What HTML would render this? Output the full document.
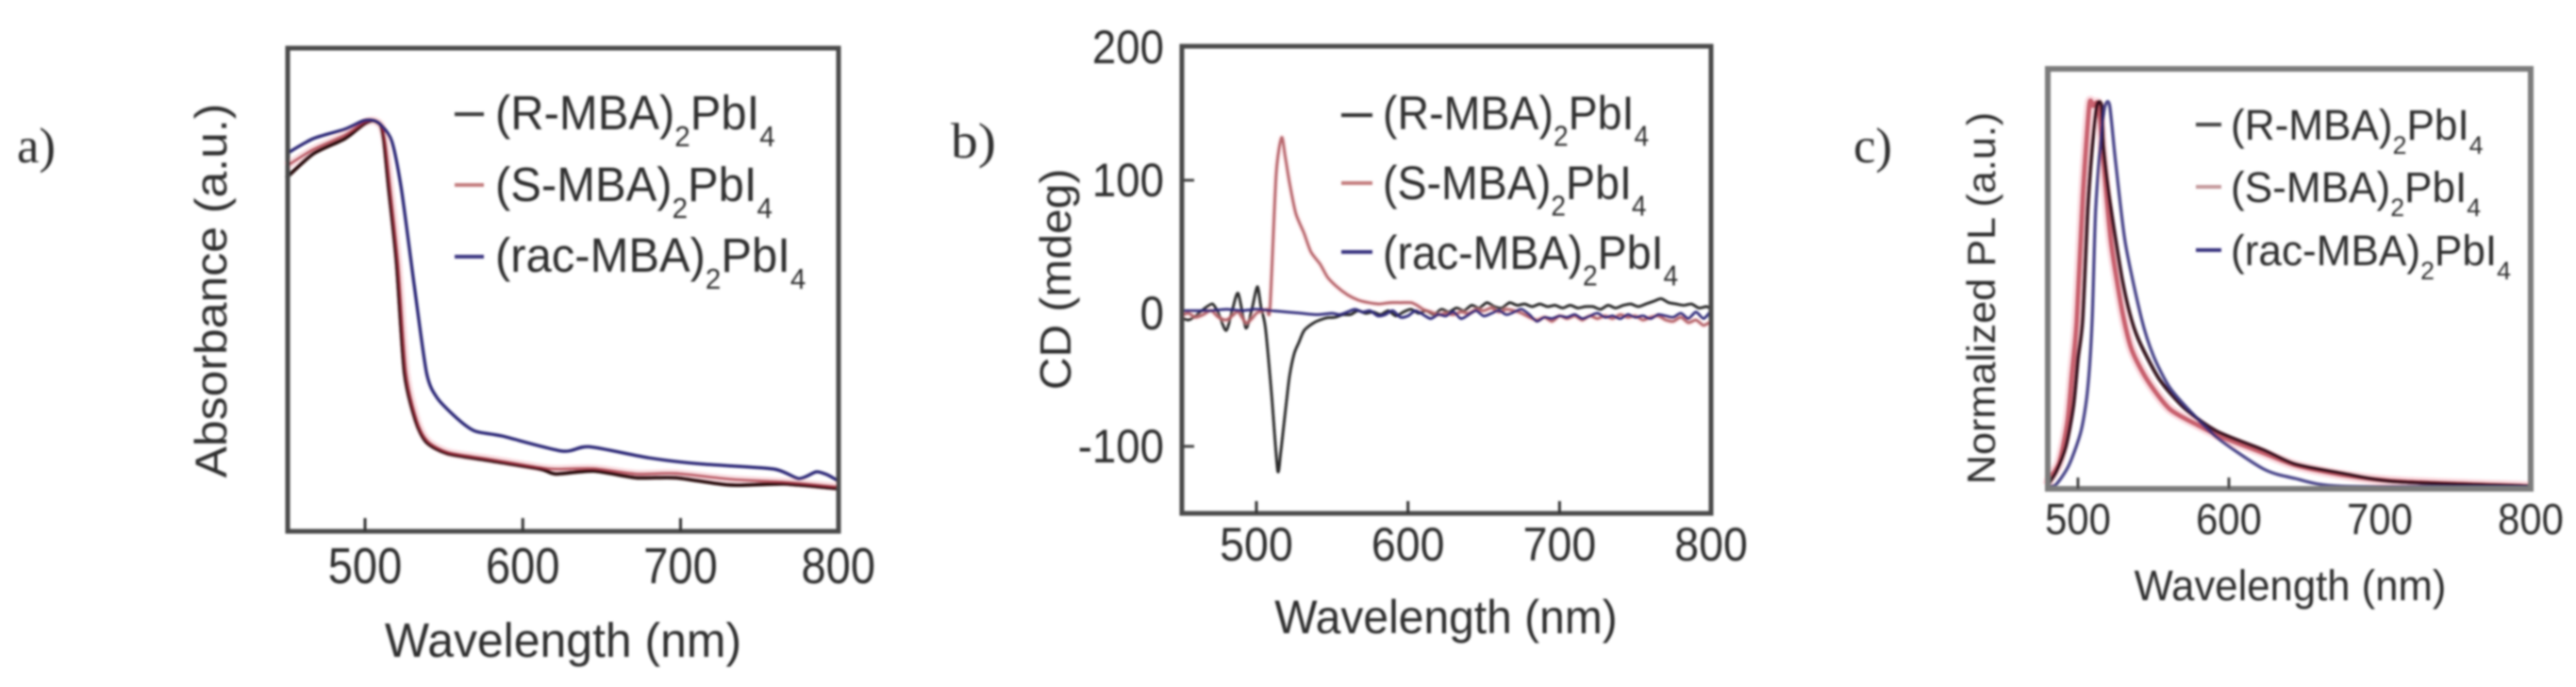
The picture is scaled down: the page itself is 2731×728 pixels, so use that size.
<!DOCTYPE html>
<html lang="en">
<head>
<meta charset="utf-8">
<title>Absorbance, CD and PL spectra</title>
<style>
html,body{margin:0;padding:0;background:#fff;width:2731px;height:728px;overflow:hidden}
svg{display:block}
text{font-family:"Liberation Sans",sans-serif;fill:#2f2f2f;font-size:48px}
text.serif{font-family:"Liberation Serif",serif}
</style>
</head>
<body>
<svg id="fig" xmlns="http://www.w3.org/2000/svg" width="2731" height="728" viewBox="0 0 2731 728">
<defs><filter id="soft" x="-2%" y="-2%" width="104%" height="104%"><feGaussianBlur stdDeviation="1"/></filter></defs>
<rect width="2731" height="728" fill="#fff"/>
<g id="root" filter="url(#soft)">
  <text class="serif" transform="translate(18,172) scale(1.1,1.1)">a)</text>
  <text class="serif" transform="translate(1008,167) scale(1.2,1.1)">b)</text>
  <text class="serif" transform="translate(1965,172) scale(1.1,1.1)">c)</text>

  <g>
    <text text-anchor="middle" transform="translate(597,696) scale(1.04,1.06)">Wavelength (nm)</text>
    <text text-anchor="middle" transform="translate(240,308) rotate(-90) scale(1.04,0.98)">Absorbance (a.u.)</text>
  </g>
  <g>
    <text text-anchor="middle" transform="translate(1533,671) scale(1,1.04)">Wavelength (nm)</text>
    <text text-anchor="middle" transform="translate(1135,296) rotate(-90) scale(1,0.96)">CD (mdeg)</text>
  </g>
  <g>
    <text text-anchor="middle" transform="translate(2428,636) scale(0.91,0.94)">Wavelength (nm)</text>
    <text text-anchor="middle" transform="translate(2115,316) rotate(-90) scale(0.9,0.875)">Normalized PL (a.u.)</text>
  </g>

  <g>
    <line x1="482" x2="513" y1="121" y2="121" stroke="#3a3a3a" stroke-width="4"/>
    <text transform="translate(525,137) scale(1.02,1.06)">(R-MBA)<tspan font-size="29" dy="17">2</tspan><tspan dy="-17">PbI</tspan><tspan font-size="29" dy="17">4</tspan></text>
    <line x1="482" x2="513" y1="196" y2="196" stroke="#c47f80" stroke-width="4"/>
    <text transform="translate(525,213) scale(1.02,1.06)">(S-MBA)<tspan font-size="29" dy="17">2</tspan><tspan dy="-17">PbI</tspan><tspan font-size="29" dy="17">4</tspan></text>
    <line x1="482" x2="513" y1="272" y2="272" stroke="#3a3580" stroke-width="4"/>
    <text transform="translate(525,288) scale(1.02,1.06)">(rac-MBA)<tspan font-size="29" dy="17">2</tspan><tspan dy="-17">PbI</tspan><tspan font-size="29" dy="17">4</tspan></text>
  </g>
  <g>
    <line x1="1422" x2="1455" y1="122" y2="122" stroke="#333" stroke-width="4"/>
    <text transform="translate(1466,137) scale(0.97,1.04)">(R-MBA)<tspan font-size="29" dy="17">2</tspan><tspan dy="-17">PbI</tspan><tspan font-size="29" dy="17">4</tspan></text>
    <line x1="1422" x2="1455" y1="194" y2="194" stroke="#c47f80" stroke-width="4"/>
    <text transform="translate(1466,211) scale(0.97,1.04)">(S-MBA)<tspan font-size="29" dy="17">2</tspan><tspan dy="-17">PbI</tspan><tspan font-size="29" dy="17">4</tspan></text>
    <line x1="1422" x2="1455" y1="267" y2="267" stroke="#3a3580" stroke-width="4"/>
    <text transform="translate(1466,285) scale(0.97,1.04)">(rac-MBA)<tspan font-size="29" dy="17">2</tspan><tspan dy="-17">PbI</tspan><tspan font-size="29" dy="17">4</tspan></text>
  </g>
  <g>
    <line x1="2328" x2="2355" y1="132" y2="132" stroke="#444" stroke-width="4"/>
    <text transform="translate(2365,148) scale(0.92,0.94)">(R-MBA)<tspan font-size="29" dy="16">2</tspan><tspan dy="-16">PbI</tspan><tspan font-size="29" dy="16">4</tspan></text>
    <line x1="2328" x2="2355" y1="198" y2="198" stroke="#c49a9c" stroke-width="4"/>
    <text transform="translate(2365,214) scale(0.92,0.94)">(S-MBA)<tspan font-size="29" dy="16">2</tspan><tspan dy="-16">PbI</tspan><tspan font-size="29" dy="16">4</tspan></text>
    <line x1="2328" x2="2355" y1="265" y2="265" stroke="#3a3580" stroke-width="4"/>
    <text transform="translate(2365,281) scale(0.92,0.94)">(rac-MBA)<tspan font-size="29" dy="16">2</tspan><tspan dy="-16">PbI</tspan><tspan font-size="29" dy="16">4</tspan></text>
  </g>
  <g id="marks"></g>
</g>
</svg>
<script>
// Panel a: absorbance (axis 0..1 of frame height)
const aTicks = [500, 600, 700, 800];
const aTickLabels = ["500", "600", "700", "800"];
const aRWave = [450,467,487,499,505,510,512,515,520,525,532,539,552,577,611,621,645,672,697,731,765,800];
const aRVal  = [.731,.781,.8125,.842,.85,.84,.807,.709,.555,.328,.229,.184,.161,.147,.129,.119,.125,.111,.111,.096,.098,.088];
const aSWave = [450,467,487,499,505,510,513,516,521,526,533,540,553,578,611,621,645,672,697,731,765,800];
const aSVal  = [.755,.79,.82,.845,.85,.84,.8,.71,.555,.33,.228,.186,.163,.15,.132,.129,.13,.119,.12,.108,.102,.092];
const aRacWave = [450,467,487,499,505,510,517,523,531,539,546,560,570,587,625,642,680,714,759,775,786,793,800];
const aRacVal  = [.781,.8125,.832,.85,.851,.842,.807,.709,.514,.328,.275,.229,.207,.197,.166,.175,.152,.139,.129,.109,.123,.117,.104];

// Panel b: circular dichroism (mdeg)
const bXTicks = [500, 600, 700, 800];
const bXTickLabels = ["500", "600", "700", "800"];
const bYTicks = [200, 100, 0, -100];
const bYTickLabels = ["200", "100", "0", "-100"];
const bRWave = [450,455,460,465,471,475,480,484,488,493,497,500.6,503,506,510,514,516,518,520,522,525,528,531.5,538,546,552,557,562,567,572,577,582,587,592,597,602,607,612,617,622,627,632,637,642,647,652,657,662,667,672,677,682,687,692,697,702,707,712,717,722,727,732,737,742,747,752,757,762,767,772,777,782,787,792,797,800];
const bRVal  = [-3,-5,-2,3,7,0,-13,2,15,-11,3,20,5,-11,-61,-118,-105,-85,-65,-46,-30,-22,-13,-7,-3.5,-3,-1,-1,2,0,1,-1,2,-2,1,3,0,2,-1,3,1,4,2,6,4,8,5,4,8,6,7,5,7,5,6,4,6,4,5,5,3,6,4,6,7,5,7,9,11,8,7,6,7,4,5,3];
const bSWave = [450,455,460,465,470,475,480,484,488,493,497,500,504,507,509,513,516.6,519,522,526,531.5,536,542,547,552.6,560,567,574,581,588,595,602,606,610,615,620,625,630,635,640,645,650,655,660,665,670,675,680,685,690,695,700,705,710,715,720,725,730,735,740,745,750,755,760,765,770,775,780,785,790,795,800];
const bSVal  = [-2,0,-3,-1,2,-3,-5,-2,1,-7,-4,0,2,3,5,104,132,118,97,75,60,46,37,27,20.5,14,10,8,7,8,8,8,6,3,1,-1,0,-1,1,0,3,2,4,1,3,2,0,-3,-5,-3,-6,-2,-4,-2,-5,-2,-4,-2,-4,-1,-3,-2,-5,-3,-2,-5,-6,-3,-7,-5,-9,-6];
const bRacWave = [450,460,470,480,490,500,510,520,530,540,550,555,560,565,570,575,580,585,590,595,600,605,610,615,620,625,630,635,640,645,650,655,660,665,670,675,680,685,690,695,700,705,710,715,720,725,730,735,740,745,750,755,760,765,770,775,780,785,790,795,800];
const bRacVal  = [2,2,2,3,2,3,2,1,0,-1,0,-1,1,3,1,2,-2,-1,2,-3,-2,2,-1,-4,-1,-2,1,-4,-1,2,-2,0,2,-1,1,3,-1,-6,-3,-4,-2,-3,-1,-4,-2,0,-3,-2,-4,-1,-3,-2,-4,-1,-2,-3,0,-4,1,-4,2];

// Panel c: normalized photoluminescence
const cTicks = [500, 600, 700, 800];
const cTickLabels = ["500", "600", "700", "800"];
const cRWave = [480,485.6,492,497,500,503,506.4,509.4,512.5,515.6,517,522,529.4,535.6,542,554.4,571,592,623,644,675,710,798];
const cRVal  = [.005,.04,.106,.213,.337,.436,.725,.889,1,1,.889,.725,.542,.436,.37,.28,.205,.146,.097,.06,.036,.014,.002];
const cSWave = [480,481,487.6,493,496,499.2,503.3,507.5,510,513.75,517,522,529.4,535.6,546,560.6,579,596,623,644,675,710.6,798];
const cSVal  = [.005,.02,.064,.17,.295,.436,.765,1,1,1,.85,.64,.46,.36,.28,.205,.163,.13,.089,.057,.032,.015,.002];
const cRacWave = [480,485.6,494,502,506.4,509.4,511.7,515.6,518,521,525,531.4,542,550,560.6,575,592,623,644,675,798];
const cRacVal  = [0,.007,.057,.146,.255,.436,.725,.93,1,1,.85,.64,.443,.344,.262,.196,.13,.047,.022,.002,.001];

const NS = "http://www.w3.org/2000/svg";
const marks = document.getElementById("marks");

const xA = w => 387 + (w - 500) * 1.6725;
const yA = v => 563 - v * 512;
const xB = w => 1332 + (w - 500) * 1.607;
const yB = v => 332 - v * 1.41;
const xC = w => 2203 + (w - 500) * 1.6;
const yC = v => 516 - v * 404;

function splinePath(wave, vals, xf, yf) {
  const p = wave.map((w, i) => [xf(w), yf(vals[i])]);
  let d = "M" + p[0][0].toFixed(1) + " " + p[0][1].toFixed(1);
  for (let i = 0; i < p.length - 1; i++) {
    const a = p[Math.max(i - 1, 0)], b = p[i], c = p[i + 1], e = p[Math.min(i + 2, p.length - 1)];
    const c1x = b[0] + (c[0] - a[0]) / 8, c1y = b[1] + (c[1] - a[1]) / 8;
    const c2x = c[0] - (e[0] - b[0]) / 8, c2y = c[1] - (e[1] - b[1]) / 8;
    d += " C" + c1x.toFixed(1) + " " + c1y.toFixed(1) + " " + c2x.toFixed(1) + " " + c2y.toFixed(1) + " " + c[0].toFixed(1) + " " + c[1].toFixed(1);
  }
  return d;
}
function drawLine(name, wave, vals, xf, yf, color, width, opacity) {
  const el = document.createElementNS(NS, "path");
  el.setAttribute("d", splinePath(wave, vals, xf, yf));
  el.setAttribute("fill", "none");
  el.setAttribute("stroke", color);
  el.setAttribute("stroke-width", width);
  el.setAttribute("stroke-opacity", opacity);
  el.setAttribute("stroke-linejoin", "round");
  
  
  marks.appendChild(el);
}
function drawFrame(name, x, y, w, h, color, width) {
  const el = document.createElementNS(NS, "rect");
  el.setAttribute("x", x);
  el.setAttribute("y", y);
  el.setAttribute("width", w);
  el.setAttribute("height", h);
  el.setAttribute("fill", "none");
  el.setAttribute("stroke", color);
  el.setAttribute("stroke-width", width);
  
  
  marks.appendChild(el);
}
function drawTick(name, x1, y1, x2, y2, color) {
  const el = document.createElementNS(NS, "line");
  el.setAttribute("x1", x1);
  el.setAttribute("y1", y1);
  el.setAttribute("x2", x2);
  el.setAttribute("y2", y2);
  el.setAttribute("stroke", color);
  el.setAttribute("stroke-width", 3);
  
  
  marks.appendChild(el);
}
function drawLabel(name, str, x, y, anchor, sx, sy) {
  const el = document.createElementNS(NS, "text");
  el.textContent = str;
  el.setAttribute("text-anchor", anchor);
  el.setAttribute("transform", "translate(" + x + "," + y + ") scale(" + sx + "," + sy + ")");
  
  
  marks.appendChild(el);
}

// Panel a
drawLine("series-a-s-mba-halo", aSWave, aSVal, xA, yA, "#f3b0b8", 9, .4);
drawLine("series-a-r-mba", aRWave, aRVal, xA, yA, "#2a0c10", 4, 1);
drawLine("series-a-s-mba", aSWave, aSVal, xA, yA, "#a83040", 3, .75);
drawLine("series-a-rac-mba", aRacWave, aRacVal, xA, yA, "#2e2a78", 3.5, 1);
drawFrame("panel-a-frame", 305, 51, 584, 512, "#4a4a4a", 5);
aTicks.forEach((t, i) => {
  if (t < 800) drawTick("panel-a-x-tick-" + t, xA(t), 563, xA(t), 549, "#333");
  drawLabel("panel-a-x-tick-label-" + t, aTickLabels[i], xA(t), 618, "middle", .98, 1.12);
});

// Panel b
drawLine("series-b-r-mba", bRWave, bRVal, xB, yB, "#2a2a2a", 3, 1);
drawLine("series-b-s-mba-halo", bSWave, bSVal, xB, yB, "#f6b6bc", 6, .35);
drawLine("series-b-s-mba", bSWave, bSVal, xB, yB, "#b05c62", 3, .9);
drawLine("series-b-rac-mba", bRacWave, bRacVal, xB, yB, "#2a2678", 3, .95);
drawFrame("panel-b-frame", 1253, 49, 561, 495, "#4a4a4a", 5);
bXTicks.forEach((t, i) => {
  if (t < 800) drawTick("panel-b-x-tick-" + t, xB(t), 544, xB(t), 531, "#333");
  drawLabel("panel-b-x-tick-label-" + t, bXTickLabels[i], xB(t), 594, "middle", .97, 1.04);
});
bYTicks.forEach((t, i) => {
  if (t === 100 || t === -100) drawTick("panel-b-y-tick-" + t, 1253, yB(t), 1266, yB(t), "#444");
  drawLabel("panel-b-y-tick-label-" + t, bYTickLabels[i], 1234, yB(t) + 17, "end", .95, 1.04);
});

// Panel c
drawLine("series-c-s-mba-halo", cSWave, cSVal, xC, yC, "#f4a8b4", 11, .4);
drawLine("series-c-s-mba", cSWave, cSVal, xC, yC, "#c04a5a", 5, .85);
drawLine("series-c-r-mba", cRWave, cRVal, xC, yC, "#300a18", 4, .95);
drawLine("series-c-rac-mba", cRacWave, cRacVal, xC, yC, "#2e2a78", 3.5, .85);
drawFrame("panel-c-frame", 2171, 73, 512, 445, "#7c7c7c", 6);
cTicks.forEach((t, i) => {
  if (t < 700) drawTick("panel-c-x-tick-" + t, xC(t), 518, xC(t), 506, "#444");
  drawLabel("panel-c-x-tick-label-" + t, cTickLabels[i], xC(t), 566, "middle", .87, .96);
});
</script>
</body>
</html>
